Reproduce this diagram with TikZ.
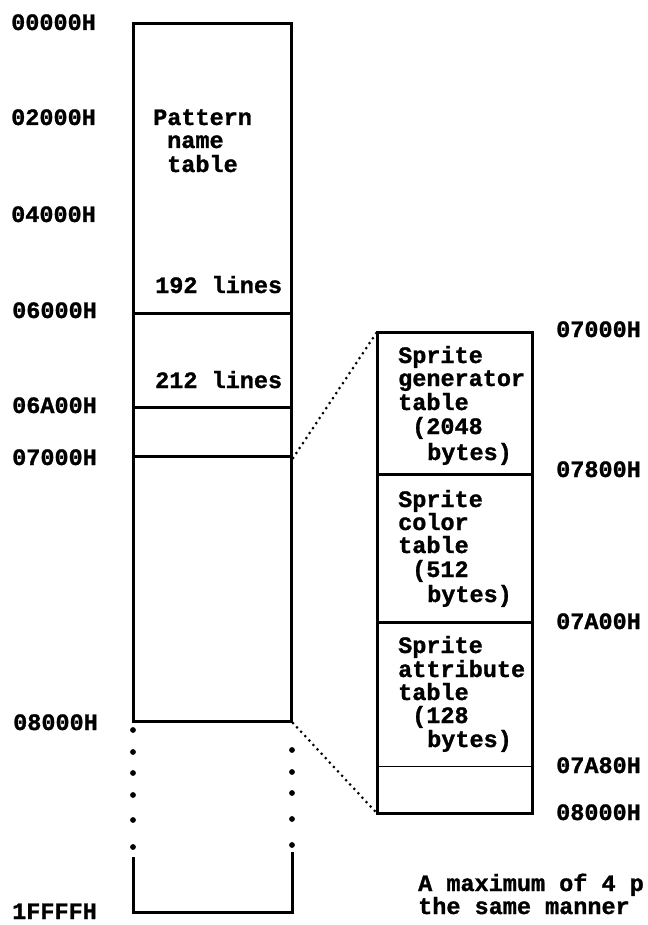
\documentclass[tikz,border=0pt]{standalone}
\usepackage{fontspec}
\newfontfamily\monob[FakeBold=1.2]{Liberation Mono Bold}
\begin{document}
\begin{tikzpicture}[x=1pt,y=-1pt,
  frame/.style={draw, line width=3pt, inner sep=0pt, anchor=north west, minimum width=158pt},
  sframe/.style={inner sep=0pt, anchor=north west, minimum width=155pt},
  txt/.style={anchor=base west, inner sep=0pt, font=\monob\fontsize{23.5}{24}\selectfont},
  zoomline/.style={line width=3pt, line cap=round, dash pattern=on 0pt off 6pt},
  thick2/.style={line width=3pt},
  dotmark/.style={fill=black}]
\useasboundingbox (0,0) rectangle (647,925);
% main column
\node[frame, minimum height=290pt] (pnt) at (132,22) {};
\node[frame, minimum height=94pt] (r2) at (132,312) {};
\node[frame, minimum height=49pt] (r3) at (132,406) {};
\node[frame, minimum height=265pt] (r4) at (132,455) {};
% bottom open part
\coordinate (bl) at (133,857);
\coordinate (blc) at (133,912);
\coordinate (brc) at (292,912);
\coordinate (br) at (292,852);
\draw[thick2] (bl) -- (blc) -- (brc) -- (br);
\foreach \yy in {730,752,773,795,820,847} \fill[dotmark] (133,\yy) circle (2.9pt);
\foreach \yy in {750,772,793,819,845} \fill[dotmark] (292,\yy) circle (2.9pt);
% sprite column
\node[sframe, minimum height=142pt] (sg) at (377,332) {};
\node[sframe, minimum height=148pt] (sc) at (377,474) {};
\node[sframe, minimum height=144pt] (sa) at (377,622) {};
\node[sframe, minimum height=47pt] (s4) at (377,766) {};
\draw[thick2] (sg.north west) rectangle (s4.south east);
\draw[line width=2.6pt] (sg.south west) -- (sg.south east);
\draw[line width=2.6pt] (sc.south west) -- (sc.south east);
\draw[line width=1.6pt] (sa.south west) -- (sa.south east);
% zoom connectors
\draw[zoomline] (r3.south east) -- (sg.north west);
\draw[zoomline] (r4.south east) -- (s4.south west);
% left labels
\node[txt] (a0) at (11,30) {00000H};
\node[txt] (a1) at (11,125) {02000H};
\node[txt] (a2) at (11,222) {04000H};
\node[txt] (a3) at (12,318) {06000H};
\node[txt] (a4) at (12,413) {06A00H};
\node[txt] (a5) at (12,465) {07000H};
\node[txt] (a6) at (13,730) {08000H};
\node[txt] (a7) at (12,919) {1FFFFH};
% text in main column
\node[txt] (p1) at (153,125) {Pattern};
\node[txt] (p2) at (167,148) {name};
\node[txt] (p3) at (167,172) {table};
\node[txt] (l192) at (155,293) {192 lines};
\node[txt] (l212) at (155,388) {212 lines};
% right labels
\node[txt] (b0) at (556,337) {07000H};
\node[txt] (b1) at (556,477) {07800H};
\node[txt] (b2) at (556,629) {07A00H};
\node[txt] (b3) at (556,773) {07A80H};
\node[txt] (b4) at (556,820) {08000H};
% sprite generator text
\node[txt] (g1) at (398,363) {Sprite};
\node[txt] (g2) at (398,386) {generator};
\node[txt] (g3) at (398,410) {table};
\node[txt] (g4) at (412,434) {(2048};
\node[txt] (g5) at (427,460) {bytes)};
% sprite color text
\node[txt] (c1) at (398,507) {Sprite};
\node[txt] (c2) at (398,530) {color};
\node[txt] (c3) at (398,553) {table};
\node[txt] (c4) at (412,577) {(512};
\node[txt] (c5) at (427,602) {bytes)};
% sprite attribute text
\node[txt] (t1) at (398,653) {Sprite};
\node[txt] (t2) at (398,677) {attribute};
\node[txt] (t3) at (398,700) {table};
\node[txt] (t4) at (412,723) {(128};
\node[txt] (t5) at (427,747) {bytes)};
% bottom note
\node[txt] (n1) at (418,891) {A maximum of 4 p};
\node[txt] (n2) at (418,914) {the same manner};
\end{tikzpicture}
\end{document}
